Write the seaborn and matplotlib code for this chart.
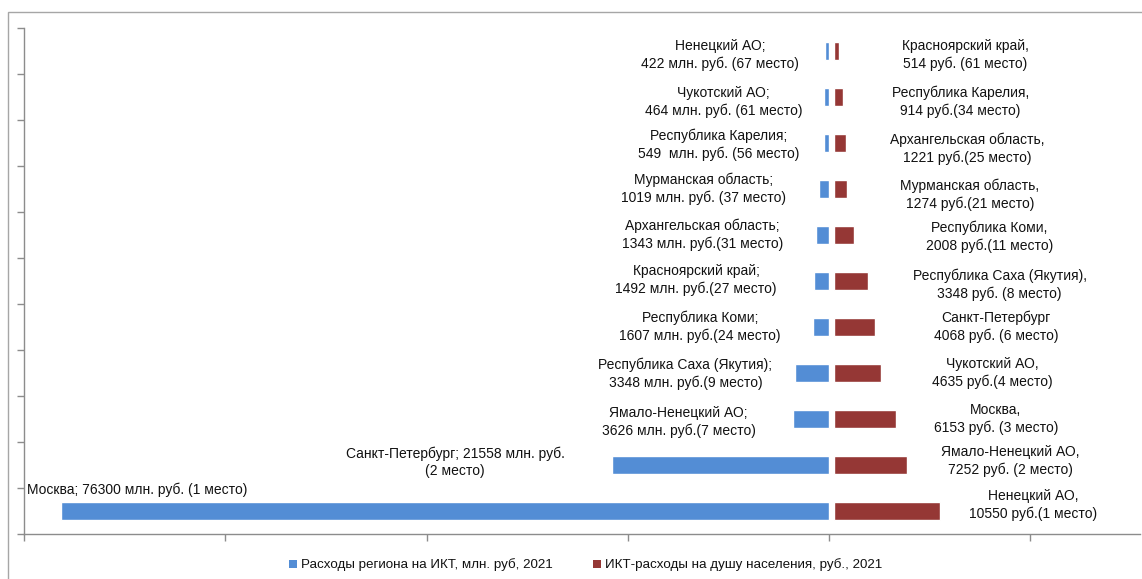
import matplotlib
matplotlib.use('Agg')
import matplotlib.pyplot as plt
import matplotlib.transforms as mtransforms
from matplotlib.patches import Patch, Rectangle
import pandas as pd
import seaborn as sns

# rows are rank positions, top to bottom
ranks = list(range(1, 12))

# regional ICT spending, mln rub (left, blue)
spend_mln = [422, 464, 549, 1019, 1343, 1492, 1607, 3348, 3626, 21558, 76300]
spend_labels = [
    'Ненецкий АО;\n422 млн. руб. (67 место)',
    'Чукотский АО;\n464 млн. руб. (61 место)',
    'Республика Карелия;\n549  млн. руб. (56 место)',
    'Мурманская область;\n1019 млн. руб. (37 место)',
    'Архангельская область;\n1343 млн. руб.(31 место)',
    'Красноярский край;\n1492 млн. руб.(27 место)',
    'Республика Коми;\n1607 млн. руб.(24 место)',
    'Республика Саха (Якутия);\n3348 млн. руб.(9 место)',
    'Ямало-Ненецкий АО;\n3626 млн. руб.(7 место)',
    'Санкт-Петербург; 21558 млн. руб.\n(2 место)',
    'Москва; 76300 млн. руб. (1 место)',
]

# ICT spending per capita, rub (right, red)
per_capita = [514, 914, 1221, 1274, 2008, 3348, 4068, 4635, 6153, 7252, 10550]
per_capita_labels = [
    'Красноярский край,\n514 руб. (61 место)',
    'Республика Карелия,\n914 руб.(34 место)',
    'Архангельская область,\n1221 руб.(25 место)',
    'Мурманская область,\n1274 руб.(21 место)',
    'Республика Коми,\n2008 руб.(11 место)',
    'Республика Саха (Якутия),\n3348 руб. (8 место)',
    'Санкт-Петербург\n4068 руб. (6 место)',
    'Чукотский АО,\n4635 руб.(4 место)',
    'Москва,\n6153 руб. (3 место)',
    'Ямало-Ненецкий АО,\n7252 руб. (2 место)',
    'Ненецкий АО,\n10550 руб.(1 место)',
]

legend_names = ['Расходы региона на ИКТ, млн. руб, 2021',
                'ИКТ-расходы на душу населения, руб., 2021']

# label placement (pixel offsets from bar end), hand tuned like the original
blue_dx = [-105, -101, -105, -115, -113, -118, -113, -110, -114, -157, -34]
blue_dy = [-4, -5, -2, 0, 0, 1, 0, -1, -3, 3, 21]
blue_ha = ['center'] * 10 + ['left']
red_dx = [126, 117, 121, 123, 135, 132, 121, 112, 100, 103, 93]
red_dy = [-4, -5, -6, -6, -2, -4, 0, 0, 0, 4, 6]

BLUE = '#538DD5'
RED = '#953735'
GRAY = '#8c8c8c'
TXT = '#111111'

df = pd.DataFrame({'rank': [str(r) for r in ranks],
                   'spend': [-v for v in spend_mln],
                   'per_capita': per_capita})

sns.set_style('white')
plt.rcParams['font.family'] = ['Liberation Sans', 'DejaVu Sans']

fig = plt.figure(figsize=(11.42, 5.79), dpi=100)
W, H = 1142, 579
ax = fig.add_axes([24 / W, 45 / H, (1140 - 24) / W, (534 - 28) / H])

sns.barplot(data=df, y='rank', x='spend', orient='h', color=BLUE,
            width=0.39, saturation=1, ax=ax)
n_blue = len(ax.patches)
sns.barplot(data=df, y='rank', x='per_capita', orient='h', color=RED,
            width=0.39, saturation=1, ax=ax)

# small gap between the two series, as in the source chart
shift = mtransforms.ScaledTranslation(5 / 100, 0, fig.dpi_scale_trans)
for p in ax.patches[n_blue:]:
    p.set_transform(ax.transData + shift)

for i in range(len(ranks)):
    ax.annotate(spend_labels[i], xy=(df['spend'][i], i), xycoords='data',
                xytext=(blue_dx[i], blue_dy[i]), textcoords='offset pixels',
                ha=blue_ha[i], va='center', multialignment='center',
                fontsize=10, color=TXT, linespacing=1.3)
    ax.annotate(per_capita_labels[i], xy=(df['per_capita'][i], i), xycoords='data',
                xytext=(red_dx[i] + 5, red_dy[i]), textcoords='offset pixels',
                ha='center', va='center', multialignment='center',
                fontsize=10, color=TXT, linespacing=1.3)

ax.set_xlim(-80000, 30900)
ax.set_ylim(len(ranks) - 0.5, -0.5)
ax.set_xticks(range(-80000, 20001, 20000))
ax.set_yticks([i - 0.5 for i in range(len(ranks) + 1)])
ax.set_xticklabels([])
ax.set_yticklabels([])
ax.set_xlabel('')
ax.set_ylabel('')
ax.tick_params(axis='both', length=5, width=1, color=GRAY, direction='out',
               bottom=True, left=True)
sns.despine(ax=ax, top=True, right=True)
for s in ['left', 'bottom']:
    ax.spines[s].set_color(GRAY)
    ax.spines[s].set_linewidth(1)

handles = [Patch(facecolor=BLUE, edgecolor='none'),
           Patch(facecolor=RED, edgecolor='none')]
fig.legend(handles, legend_names, loc='center', bbox_to_anchor=(0.513, 14 / H),
           ncol=2, frameon=False, fontsize=9.6, handlelength=0.6,
           handleheight=0.6, handletextpad=0.3, columnspacing=3.0,
           labelcolor=TXT)

# outer chart border
fig.patches.append(Rectangle((8 / W, -0.1), 1.2, 1.1 - 12 / H,
                             transform=fig.transFigure, fill=False,
                             edgecolor='#a6a6a6', linewidth=1))

fig.savefig('out.png', dpi=100)
